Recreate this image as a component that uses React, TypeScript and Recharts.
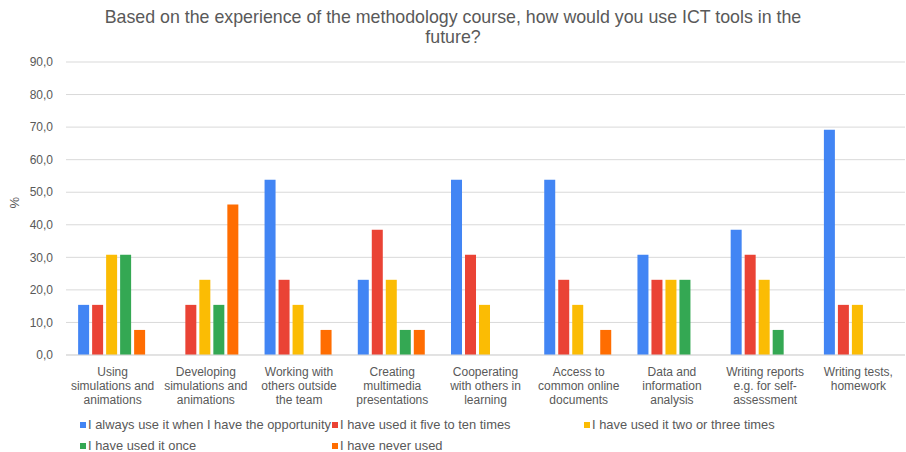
import React from 'react';
import { BarChart, Bar, CartesianGrid, XAxis, YAxis, Legend } from 'recharts';

const categories = [
  'Using\nsimulations and\nanimations',
  'Developing\nsimulations and\nanimations',
  'Working with\nothers outside\nthe team',
  'Creating\nmultimedia\npresentations',
  'Cooperating\nwith others in\nlearning',
  'Access to\ncommon online\ndocuments',
  'Data and\ninformation\nanalysis',
  'Writing reports\ne.g. for self-\nassessment',
  'Writing tests,\nhomework',
];

const alwaysUse = [15.4, 0, 53.8, 23.1, 53.8, 53.8, 30.8, 38.5, 69.2];
const fiveToTen = [15.4, 15.4, 23.1, 38.5, 30.8, 23.1, 23.1, 30.8, 15.4];
const twoOrThree = [30.8, 23.1, 15.4, 23.1, 15.4, 15.4, 23.1, 23.1, 15.4];
const once = [30.8, 15.4, 0, 7.7, 0, 0, 23.1, 7.7, 0];
const never = [7.7, 46.2, 7.7, 7.7, 0, 7.7, 0, 0, 0];

const yTicks = [0, 10, 20, 30, 40, 50, 60, 70, 80, 90];

const series = [
  { key: 'always', name: 'I always use it when I have the opportunity', color: '#4285F4', values: alwaysUse },
  { key: 'five', name: 'I have used it five to ten times', color: '#EA4335', values: fiveToTen },
  { key: 'two', name: 'I have used it two or three times', color: '#FBBC04', values: twoOrThree },
  { key: 'once', name: 'I have used it once', color: '#34A853', values: once },
  { key: 'never', name: 'I have never used', color: '#FF6D01', values: never },
];

const data = categories.map((c, i) => {
  const row: Record<string, string | number> = { name: c };
  series.forEach(s => { row[s.key] = s.values[i]; });
  return row;
});

const FONT = '"Liberation Sans", Arial, sans-serif';
const TEXT = '#595959';

const CategoryTick = (props: any) => {
  const { x, y, payload } = props;
  const lines = String(payload.value).split('\n');
  return (
    <text x={x} y={y} textAnchor="middle" fill={TEXT} fontSize={12} fontFamily={FONT}>
      {lines.map((l, i) => (
        <tspan key={i} x={x} dy={i === 0 ? 13 : 14}>{l}</tspan>
      ))}
    </text>
  );
};

const LegendBox = () => {
  const cols = [80, 332, 584];
  return (
    <div style={{ position: 'relative', width: 906, height: 42, fontFamily: FONT, fontSize: 12.9, color: TEXT }}>
      {series.map((s, i) => {
        const left = cols[i % 3];
        const top = i < 3 ? 8 : 29;
        return (
          <div key={s.key} style={{ position: 'absolute', left, top, height: 14, lineHeight: '14px', whiteSpace: 'nowrap' }}>
            <span style={{ display: 'inline-block', width: 6, height: 6, background: s.color, marginRight: 2, marginBottom: 1 }} />
            {s.name}
          </div>
        );
      })}
    </div>
  );
};

export default function App() {
  return (
    <div style={{ position: 'absolute', left: 0, top: 0, width: 906, height: 452, background: '#fff' }}>
      <div style={{ position: 'absolute', left: 0, top: 7, width: 906, textAlign: 'center', fontFamily: FONT, fontSize: 17.8, lineHeight: '20px', color: TEXT }}>
        Based on the experience of the methodology course, how would you use ICT tools in the<br />future?
      </div>
      <BarChart
        width={906}
        height={452}
        data={data}
        margin={{ top: 62, right: 1, bottom: 0, left: 0 }}
        barCategoryGap="13%"
        barGap={3}
      >
        <CartesianGrid vertical={false} stroke="#d9d9d9" />
        <XAxis
          dataKey="name"
          height={55}
          axisLine={{ stroke: '#d9d9d9' }}
          tickLine={false}
          interval={0}
          tick={<CategoryTick />}
        />
        <YAxis
          width={66}
          domain={[0, 90]}
          ticks={yTicks}
          axisLine={false}
          tickLine={false}
          tickMargin={7}
          tickFormatter={(v: number) => v.toFixed(1).replace('.', ',')}
          tick={{ fill: TEXT, fontSize: 12, fontFamily: FONT }}
          label={{ value: '%', angle: -90, position: 'insideLeft', offset: 14, fill: TEXT, fontSize: 13, fontFamily: FONT }}
        />
        <Legend verticalAlign="bottom" height={42} content={<LegendBox />} wrapperStyle={{ left: 0, width: 906 }} />
        {series.map(s => (
          <Bar key={s.key} dataKey={s.key} name={s.name} fill={s.color} isAnimationActive={false} />
        ))}
      </BarChart>
    </div>
  );
}
